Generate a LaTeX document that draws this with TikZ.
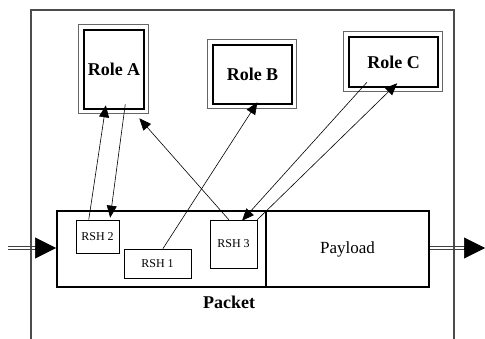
\documentclass[tikz,border=0pt]{standalone}
\usepackage{fontspec}
\setmainfont{Liberation Serif}
\usetikzlibrary{arrows.meta,calc}
\begin{document}
\begin{tikzpicture}[x=1pt,y=-1pt,
  rolebox/.style={draw=black,line width=2.6pt,inner sep=0pt,
    font=\fontsize{18}{20}\selectfont\bfseries},
  rsh/.style={draw=black,line width=0.7pt,inner sep=0pt,
    font=\fontsize{12}{13}\selectfont},
  pbox/.style={draw=black,line width=1.8pt,inner sep=0pt},
  link/.style={line width=0.6pt,-{Triangle[length=12pt,width=10pt]}},
  bigtip/.style={line width=0.6pt,-{Triangle[length=21pt,width=21pt]}},
  dblline/.style={draw=black!75,line width=0.6pt},
  frame/.style={draw=black!70,line width=1.2pt},
  outerbox/.style={draw=black!60,line width=0.7pt}]
\useasboundingbox (0,0) rectangle (485,339);
% frame
\draw[frame] (31,339) -- (31,10) -- (454,10) -- (454,339);
% roles
\node[rolebox,minimum width=60pt,minimum height=79pt] (A) at (114,69.5) {Role A};
\node[rolebox,minimum width=79pt,minimum height=59pt] (B) at (252.5,74.5) {Role B};
\node[rolebox,minimum width=89pt,minimum height=50pt] (C) at (393.5,62) {Role C};
\foreach \n in {A,B,C}{
  \draw[outerbox] ([shift={(-4,-4)}]\n.north west) rectangle ([shift={(3.5,3.5)}]\n.south east);
}
% packet
\node[pbox,minimum width=209pt,minimum height=76pt] (P) at (161.5,249) {};
\node[pbox,minimum width=163pt,minimum height=76pt,font=\fontsize{17}{19}\selectfont] (L) at (347.5,249) {Payload};
\node[font=\fontsize{18}{20}\selectfont\bfseries] (PL) at (229,302) {Packet};
% RSH boxes
\node[rsh,minimum width=43pt,minimum height=33pt] (R2) at (97.5,236.5) {RSH 2};
\node[rsh,minimum width=67pt,minimum height=29pt] (R1) at (157.5,263.5) {RSH 1};
\node[rsh,minimum width=47pt,minimum height=48pt] (R3) at (233.5,244) {RSH 3};
% links
\draw[link] ($(R2.north west)!0.3!(R2.north east)$) -- ([yshift=5pt]$(A.south west)!0.37!(A.south east)$);
\draw[link] ([yshift=6pt]$(A.south west)!0.68!(A.south east)$) -- ([yshift=2pt]$(R2.north west)!0.79!(R2.north east)$);
\draw[link] ($(R3.north west)!0.4!(R3.north east)$) -- ([shift={(-6,8)}]A.south east);
\draw[link] ($(R1.north west)!0.58!(R1.north east)$) -- ([yshift=3pt]$(B.south west)!0.56!(B.south east)$);
\draw[link] ([yshift=6pt]$(C.south west)!0.21!(C.south east)$) -- ([yshift=-1pt]$(R3.north west)!0.68!(R3.north east)$);
\draw[link] (R3.north east) -- ([yshift=5pt]$(C.south west)!0.54!(C.south east)$);
% in / out
\coordinate (srcA) at (8,248);
\coordinate (srcB) at (36,248);
\coordinate (dstB) at (465,248);
\coordinate (dstA) at (485,248);
\draw[dblline] ([yshift=-1.2pt]srcA) -- ([yshift=-1.2pt]srcB);
\draw[dblline] ([yshift=1.2pt]srcA) -- ([yshift=1.2pt]srcB);
\draw[bigtip] (srcB) -- (P.west |- srcB);
\draw[dblline] ([yshift=-1.2pt]L.east |- dstB) -- ([yshift=-1.2pt]dstB);
\draw[dblline] ([yshift=1.2pt]L.east |- dstB) -- ([yshift=1.2pt]dstB);
\draw[bigtip] (dstB) -- (dstA);
\end{tikzpicture}
\end{document}
